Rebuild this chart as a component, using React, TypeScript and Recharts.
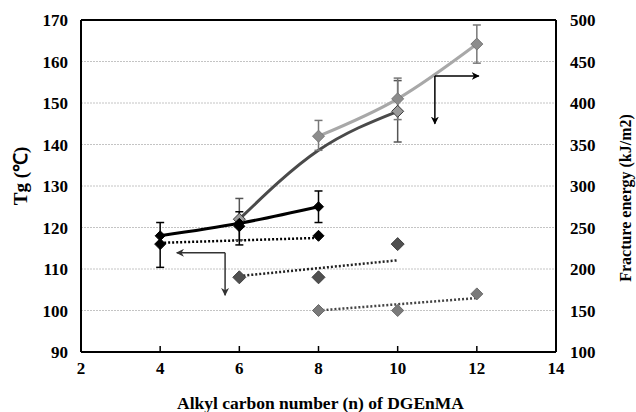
import {
  ComposedChart,
  Line,
  Scatter,
  XAxis,
  YAxis,
  CartesianGrid,
  ErrorBar,
  ReferenceLine,
} from 'recharts'

// fracture energy (right axis), solid lines with error bars
const FE_BLACK_N = [4, 6, 8]
const FE_BLACK = [240, 255, 275]
const FE_BLACK_ERR: Array<[number, number]> = [[38, 16], [26, 14], [19, 19]]

const FE_DARK_N = [6, 8, 10]
const FE_DARK = [260, 343, 390]
const FE_DARK_ERR: Array<[number, number] | null> = [[25, 25], null, [37, 37]]

const FE_LIGHT_N = [8, 10, 12]
const FE_LIGHT = [360, 405, 471]
const FE_LIGHT_ERR: Array<[number, number]> = [[17, 19], [25, 25], [23, 23]]

// Tg (left axis), diamonds with dotted trends
const TG_BLACK_N = [4, 6, 8]
const TG_BLACK = [116, 120.3, 118]
const TG_DARK_N = [6, 8, 10]
const TG_DARK = [108, 108, 116]
const TG_LIGHT_N = [8, 10, 12]
const TG_LIGHT = [100, 100, 104]

const TREND_BLACK_N = [4, 8]
const TREND_BLACK = [116.3, 117.5]
const TREND_DARK_N = [6, 10]
const TREND_DARK = [108.3, 112.1]
const TREND_LIGHT_N = [8, 12]
const TREND_LIGHT = [100, 103]

const X_TICKS = [2, 4, 6, 8, 10, 12, 14]
const TG_TICKS = [90, 100, 110, 120, 130, 140, 150, 160, 170]
const FE_TICKS = [100, 150, 200, 250, 300, 350, 400, 450, 500]

const FONT = 'Liberation Serif, serif'
const tickStyle = { fill: '#000', fontSize: 17, fontWeight: 700, fontFamily: FONT }

const toRows = (ns: number[], vs: number[], errs?: Array<unknown>) =>
  ns.map((n, i) => ({ n, v: vs[i], err: errs ? errs[i] : null }))

interface DotProps {
  cx?: number
  cy?: number
  index?: number
}

function diamond(cx: number, cy: number, r: number, fill: string, stroke: string, key?: string | number) {
  return (
    <path
      key={key}
      d={`M${cx},${cy - r}L${cx + r},${cy}L${cx},${cy + r}L${cx - r},${cy}Z`}
      fill={fill}
      stroke={stroke}
      strokeWidth={1}
    />
  )
}

const dotFn = (r: number, fill: string, stroke: string, skip: number[] = []) =>
  (p: DotProps) => {
    if (p.cx == null || p.cy == null || skip.includes(p.index ?? -1)) return <g key={p.index} />
    return diamond(p.cx, p.cy, r, fill, stroke, p.index)
  }

type VB = { x: number; y: number; width: number; height: number }

function LeftLabel({ viewBox }: { viewBox?: VB }) {
  if (!viewBox) return null
  const x = viewBox.x + 20
  const y = viewBox.y + viewBox.height / 2 - 10
  return (
    <text x={x} y={y} transform={`rotate(-90 ${x} ${y})`} textAnchor="middle" dominantBaseline="central"
      style={{ fontFamily: FONT, fontWeight: 700, fontSize: 19, fill: '#000' }}>
      Tg (℃)
    </text>
  )
}

function RightLabel({ viewBox }: { viewBox?: VB }) {
  if (!viewBox) return null
  const x = viewBox.x + viewBox.width - 11
  const y = viewBox.y + viewBox.height / 2 + 12
  return (
    <text x={x} y={y} transform={`rotate(-90 ${x} ${y})`} textAnchor="middle" dominantBaseline="central"
      style={{ fontFamily: FONT, fontWeight: 700, fontSize: 16, fill: '#000' }}>
      Fracture energy (kJ/m2)
    </text>
  )
}

function BottomLabel({ viewBox }: { viewBox?: VB }) {
  if (!viewBox) return null
  const x = viewBox.x + viewBox.width / 2 + 2
  const y = 403
  return (
    <text x={x} y={y} textAnchor="middle" dominantBaseline="central"
      style={{ fontFamily: FONT, fontWeight: 700, fontSize: 17.5, fill: '#000' }}>
      Alkyl carbon number (n) of DGEnMA
    </text>
  )
}

export default function App() {
  return (
    <div style={{ width: 636, height: 412, background: '#fff' }}>
      <style>{'body{margin:0}'}</style>
      <svg width={0} height={0} style={{ position: 'absolute' }}>
        <defs>
          <marker id="arrowBlack" viewBox="0 0 10 10" refX="9" refY="5" markerWidth="8" markerHeight="8"
            markerUnits="userSpaceOnUse" orient="auto">
            <path d="M0,0 L10,5 L0,10 L3,5 Z" fill="#000" />
          </marker>
          <marker id="arrowGray" viewBox="0 0 10 10" refX="9" refY="5" markerWidth="8" markerHeight="8"
            markerUnits="userSpaceOnUse" orient="auto">
            <path d="M0,0 L10,5 L0,10 L3,5 Z" fill="#333" />
          </marker>
        </defs>
      </svg>
      <ComposedChart width={636} height={412} margin={{ top: 20, right: 0, left: 0, bottom: 0 }}>
        <CartesianGrid yAxisId="tg" vertical={false} stroke="#c4c4c4" strokeDasharray="2 1" />
        <XAxis
          type="number"
          dataKey="n"
          domain={[2, 14]}
          ticks={X_TICKS}
          height={60}
          tick={tickStyle}
          tickSize={-6}
          tickMargin={16}
          axisLine={{ stroke: '#000', strokeWidth: 2 }}
          tickLine={{ stroke: '#000', strokeWidth: 1.5 }}
          allowDataOverflow
          label={<BottomLabel />}
        />
        <YAxis
          yAxisId="tg"
          orientation="left"
          domain={[90, 170]}
          ticks={TG_TICKS}
          width={81}
          tick={tickStyle}
          tickLine={false}
          tickMargin={7}
          axisLine={{ stroke: '#000', strokeWidth: 2 }}
          label={<LeftLabel />}
        />
        <YAxis
          yAxisId="fe"
          orientation="right"
          domain={[100, 500]}
          ticks={FE_TICKS}
          width={80}
          tick={{ ...tickStyle, textAnchor: 'start' }}
          tickLine={false}
          tickMargin={8}
          axisLine={{ stroke: '#000', strokeWidth: 2 }}
          label={<RightLabel />}
        />
        <ReferenceLine yAxisId="tg" y={170} stroke="#000" strokeWidth={2} />

        {/* dotted Tg trends */}
        <Line yAxisId="tg" data={toRows(TREND_BLACK_N, TREND_BLACK)} dataKey="v" stroke="#000"
          strokeWidth={2.5} strokeDasharray="2 2" dot={false} isAnimationActive={false} />
        <Line yAxisId="tg" data={toRows(TREND_DARK_N, TREND_DARK)} dataKey="v" stroke="#222"
          strokeWidth={2.5} strokeDasharray="2 2" dot={false} isAnimationActive={false} />
        <Line yAxisId="tg" data={toRows(TREND_LIGHT_N, TREND_LIGHT)} dataKey="v" stroke="#444"
          strokeWidth={2.5} strokeDasharray="2 2" dot={false} isAnimationActive={false} />

        {/* Tg diamonds */}
        <Scatter yAxisId="tg" data={toRows(TG_BLACK_N, TG_BLACK)} dataKey="v" isAnimationActive={false}
          shape={(p: DotProps) => diamond(p.cx ?? 0, p.cy ?? 0, 5.5, '#000', '#000')} />
        <Scatter yAxisId="tg" data={toRows(TG_DARK_N, TG_DARK)} dataKey="v" isAnimationActive={false}
          shape={(p: DotProps) => diamond(p.cx ?? 0, p.cy ?? 0, 6.5, '#505050', '#404040')} />
        <Scatter yAxisId="tg" data={toRows(TG_LIGHT_N, TG_LIGHT)} dataKey="v" isAnimationActive={false}
          shape={(p: DotProps) => diamond(p.cx ?? 0, p.cy ?? 0, 6, '#7a7a7a', '#6a6a6a')} />

        {/* fracture energy lines */}
        <Line yAxisId="fe" type="monotone" data={toRows(FE_DARK_N, FE_DARK, FE_DARK_ERR)} dataKey="v"
          stroke="#4a4a4a" strokeWidth={3} dot={dotFn(6, '#9a9a9a', '#3a3a3a', [1])} isAnimationActive={false}>
          <ErrorBar dataKey="err" direction="y" width={4} stroke="#555" strokeWidth={1.5} isAnimationActive={false} />
        </Line>
        <Line yAxisId="fe" type="monotone" data={toRows(FE_LIGHT_N, FE_LIGHT, FE_LIGHT_ERR)} dataKey="v"
          stroke="#a8a8a8" strokeWidth={3} dot={dotFn(6, '#8c8c8c', '#777')} isAnimationActive={false}>
          <ErrorBar dataKey="err" direction="y" width={4} stroke="#777" strokeWidth={1.5} isAnimationActive={false} />
        </Line>
        <Line yAxisId="fe" type="monotone" data={toRows(FE_BLACK_N, FE_BLACK, FE_BLACK_ERR)} dataKey="v"
          stroke="#000" strokeWidth={3} dot={dotFn(5, '#000', '#000')} isAnimationActive={false}>
          <ErrorBar dataKey="err" direction="y" width={4} stroke="#000" strokeWidth={1.5} isAnimationActive={false} />
        </Line>

        {/* arrows pointing to the axis each group belongs to */}
        <ReferenceLine yAxisId="tg" segment={[{ x: 10.94, y: 156.5 }, { x: 12.05, y: 156.5 }]}
          stroke="#000" strokeWidth={1.5} markerEnd="url(#arrowBlack)" ifOverflow="visible" />
        <ReferenceLine yAxisId="tg" segment={[{ x: 10.94, y: 156.5 }, { x: 10.94, y: 145 }]}
          stroke="#000" strokeWidth={1.5} markerEnd="url(#arrowBlack)" ifOverflow="visible" />
        <ReferenceLine yAxisId="tg" segment={[{ x: 5.64, y: 113.9 }, { x: 4.42, y: 113.9 }]}
          stroke="#333" strokeWidth={1.5} markerEnd="url(#arrowGray)" ifOverflow="visible" />
        <ReferenceLine yAxisId="tg" segment={[{ x: 5.64, y: 113.9 }, { x: 5.64, y: 103.7 }]}
          stroke="#333" strokeWidth={1.5} markerEnd="url(#arrowGray)" ifOverflow="visible" />
      </ComposedChart>
    </div>
  )
}
